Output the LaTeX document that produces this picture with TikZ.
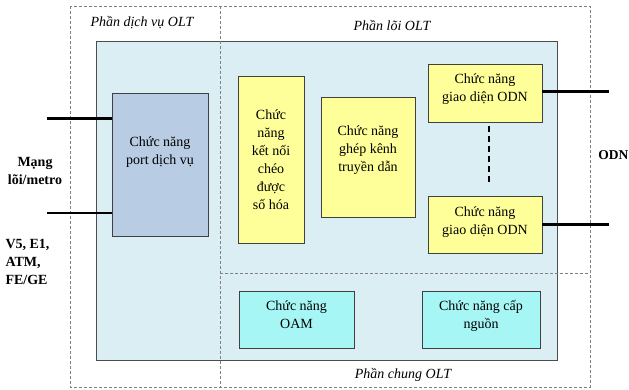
\documentclass[tikz,border=0pt]{standalone}
\usepackage{fontspec}
\setmainfont{Liberation Serif}
\definecolor{coreblue}{RGB}{219,238,244}
\definecolor{portblue}{RGB}{184,204,228}
\definecolor{funcyellow}{RGB}{255,255,153}
\definecolor{mgmtcyan}{RGB}{166,246,246}

\begin{document}
\begin{tikzpicture}[x=1pt,y=-1pt,
  box/.style={draw=black!75, line width=0.9pt, align=center, inner sep=2pt, font=\fontsize{14}{18}\selectfont},
  portbox/.style={box, fill=portblue},
  funcbox/.style={box, fill=funcyellow},
  mgmtbox/.style={box, fill=mgmtcyan},
  zone/.style={draw=gray, dash pattern=on 3pt off 2pt, line width=1pt},
  zonelabel/.style={font=\itshape\fontsize{14}{17}\selectfont},
  sidelabel/.style={font=\bfseries\fontsize{14}{18}\selectfont},
  link/.style={line width=3pt}]
\useasboundingbox (0,0) rectangle (629,389);
\node[draw=black!70, fill=coreblue, line width=1pt, minimum width=461pt, minimum height=319pt, inner sep=0pt] (core) at (326.5,200.5) {};
\draw[zone] (70,6) rectangle (590,387);
\draw[zone] (220,6) -- (220,387);
\draw[zone] (220,273) -- (590,273);
\node[zonelabel, anchor=west] (svc) at (87,23) {Phần dịch vụ OLT};
\node[zonelabel] (corelbl) at (392,25) {Phần lõi OLT};
\node[zonelabel] (common) at (403,375) {Phần chung OLT};
\node[portbox, minimum width=96pt, minimum height=143pt, text depth=28pt] (port) at (160,164.5) {Chức năng\\port dịch vụ};
\node[funcbox, minimum width=66pt, minimum height=167pt] (xconn) at (271,159.5) {Chức\\năng\\kết nối\\chéo\\được\\số hóa};
\node[funcbox, minimum width=94pt, minimum height=120pt, text depth=16pt] (mux) at (368,157) {Chức năng\\ghép kênh\\truyền dẫn};
\node[funcbox, minimum width=114pt, minimum height=58pt, text depth=10pt] (odnA) at (485,93) {Chức năng\\giao diện ODN};
\node[funcbox, minimum width=114pt, minimum height=57pt, text depth=8pt] (odnB) at (485,224.5) {Chức năng\\giao diện ODN};
\node[mgmtbox, minimum width=115pt, minimum height=57pt, text depth=10pt] (oam) at (296.5,319.5) {Chức năng\\OAM};
\node[mgmtbox, minimum width=118pt, minimum height=57pt, text depth=10pt] (power) at (481,319.5) {Chức năng cấp\\nguồn};
\node[sidelabel, align=center] (metro) at (35,171) {Mạng\\lõi/metro};
\node[sidelabel, align=left, anchor=west] (ifaces) at (2,262) {V5, E1,\\ATM,\\FE/GE};
\node[sidelabel, anchor=east, inner sep=0pt, font=\bfseries\fontsize{13.5}{18}\selectfont] (odn) at (628.5,155) {ODN};
\coordinate (inA) at (47,118);
\coordinate (inB) at (47,213);
\coordinate (outA) at (609,91);
\coordinate (outB) at (609,224);
\draw[link] (inA) -- (inA -| port.west);
\draw[line width=2pt] (inB) -- (inB -| port.west);
\draw[link] (odnA.east |- outA) -- (outA);
\draw[link] (odnB.east |- outB) -- (outB);
\draw[line width=1.6pt, dash pattern=on 6pt off 4pt, shorten <=4pt, shorten >=13pt] ([xshift=4pt]odnA.south) -- ([xshift=4pt]odnB.north);
\end{tikzpicture}
\end{document}
